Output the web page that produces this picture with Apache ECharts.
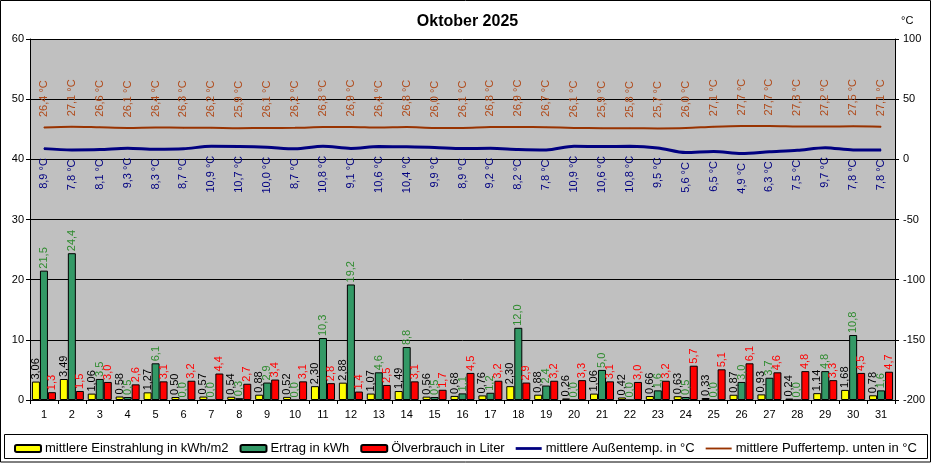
<!DOCTYPE html>
<html><head><meta charset="utf-8">
<script src="https://cdn.jsdelivr.net/npm/echarts@6/dist/echarts.min.js"></script>
<style>html,body{margin:0;padding:0;background:#fff}#c{width:935px;height:463px}</style>
</head><body><div id="c"></div>
<script>
const days = ['1','2','3','4','5','6','7','8','9','10','11','12','13','14','15','16','17','18','19','20','21','22','23','24','25','26','27','28','29','30','31'];
const einstrahlung = [3.06,3.49,1.06,0.58,1.27,0.50,0.57,0.54,0.88,0.52,2.30,2.88,1.07,1.49,0.56,0.68,0.76,2.30,0.88,0.26,1.06,0.42,0.66,0.63,0.33,0.87,0.93,0.24,1.14,1.68,0.78];
const ertrag = [21.5,24.4,3.5,0.5,6.1,0.0,0.0,0.3,2.9,0.0,10.3,19.2,4.6,8.8,0.5,1.1,1.2,12.0,2.4,0.0,5.0,0.0,1.6,0.5,0.0,3.0,3.7,0.0,4.8,10.8,1.6];
const oel = [1.3,1.5,3.0,2.6,3.1,3.2,4.4,2.7,3.4,3.1,2.8,1.4,2.5,3.1,1.7,4.5,3.2,2.9,3.2,3.3,3.1,3.0,3.2,5.7,5.1,6.1,4.6,4.8,3.3,4.5,4.7];
const aussen = [8.9,7.8,8.1,9.3,8.3,8.7,10.9,10.7,10.0,8.7,10.8,9.1,10.6,10.4,9.9,8.9,9.2,8.2,7.8,10.9,10.6,10.8,9.5,5.6,6.5,4.9,6.3,7.5,9.7,7.8,7.8];
const puffer = [26.4,27.1,26.6,26.1,26.4,26.3,26.2,25.9,26.1,26.2,26.8,26.9,26.4,26.8,26.0,26.1,26.8,26.9,26.7,26.1,25.9,25.8,25.7,26.0,27.1,27.7,27.7,27.3,27.2,27.5,27.1];
const leftTicks = {min:0, max:60, interval:10};
const rightTicks = {min:-200, max:100, interval:50};

const FONT = 'Liberation Sans, Arial, sans-serif';
const fmt = d => p => p.value.toFixed(d).replace('.', ',');
const tfmt = p => p.value.toFixed(1).replace('.', ',') + ' °C';
const barLabel = (color, d) => ({show:true, position:'top', rotate:90, align:'left', verticalAlign:'middle', distance:2, color:color, fontFamily:FONT, fontSize:11, formatter:fmt(d)});

const chart = echarts.init(document.getElementById('c'), null, {renderer:'canvas'});
chart.setOption({
  animation:false,
  backgroundColor:'#fff',
  textStyle:{fontFamily:FONT},
  title:{text:'Oktober 2025', left:'center', top:9, textStyle:{fontFamily:FONT, fontSize:16, fontWeight:'bold', color:'#000'}},
  graphic:[
    {type:'rect', shape:{x:0.5,y:0.5,width:930,height:461.5}, style:{fill:'none', stroke:'#000', lineWidth:1}, silent:true, z:-1},
    {type:'rect', shape:{x:4.5,y:434.5,width:923,height:24}, style:{fill:'none', stroke:'#000', lineWidth:1}, silent:true}
  ],
  legend:{
    left:9, top:437, width:920, itemWidth:26, itemHeight:7, itemGap:11,
    textStyle:{fontFamily:FONT, fontSize:13, color:'#000', padding:[0,0,0,-1]},
    data:[
      {name:'mittlere Einstrahlung in kWh/m2'},
      {name:'Ertrag in kWh'},
      {name:'Ölverbrauch in Liter'},
      {name:'mittlere Außentemp. in °C', icon:'path://M0,0 L28,0 L28,3 L0,3 Z'},
      {name:'mittlere Puffertemp. unten in °C', icon:'path://M0,0 L28,0 L28,2 L0,2 Z'}
    ]
  },
  grid:{left:30, right:40, top:39, bottom:63, show:true, backgroundColor:'#c0c0c0', borderWidth:0},
  xAxis:{type:'category', data:days, boundaryGap:true,
    axisLine:{lineStyle:{color:'#000'}}, axisTick:{show:true, alignWithLabel:false, length:4, lineStyle:{color:'#000'}},
    axisLabel:{color:'#000', fontSize:11, margin:9, interval:0}},
  yAxis:[
    {type:'value', min:leftTicks.min, max:leftTicks.max, interval:leftTicks.interval, position:'left',
     axisLine:{show:true, lineStyle:{color:'#000'}}, axisTick:{show:true, length:4, lineStyle:{color:'#000'}},
     axisLabel:{color:'#000', fontSize:11, margin:6},
     splitLine:{show:true, lineStyle:{color:'#000', width:1}}},
    {type:'value', min:rightTicks.min, max:rightTicks.max, interval:rightTicks.interval, position:'right',
     name:'°C', nameLocation:'end', nameGap:13, nameTextStyle:{color:'#000', fontSize:11, align:'left', padding:[0,0,0,6]},
     axisLine:{show:true, lineStyle:{color:'#000'}}, axisTick:{show:true, length:4, lineStyle:{color:'#000'}},
     axisLabel:{color:'#000', fontSize:11, margin:8},
     splitLine:{show:false}}
  ],
  series:[
    {name:'mittlere Einstrahlung in kWh/m2', type:'bar', data:einstrahlung, barWidth:8, barGap:'0%',
     itemStyle:{color:'#ffff00', borderColor:'#000', borderWidth:1}, label:barLabel('#000',2)},
    {name:'Ertrag in kWh', type:'bar', data:ertrag, barWidth:8, barGap:'0%',
     itemStyle:{color:'#339966', borderColor:'#000', borderWidth:1}, label:barLabel('#2e8b2e',1)},
    {name:'Ölverbrauch in Liter', type:'bar', data:oel, barWidth:8, barGap:'0%',
     itemStyle:{color:'#ff0000', borderColor:'#000', borderWidth:1}, label:barLabel('#ff0000',1)},
    {name:'mittlere Außentemp. in °C', type:'line', yAxisIndex:1, data:aussen, smooth:0.3,
     symbol:'circle', symbolSize:1, itemStyle:{color:'#000080'}, lineStyle:{color:'#000080', width:3},
     label:{show:true, position:'bottom', rotate:90, align:'right', verticalAlign:'middle', distance:9, color:'#000080', fontSize:11, fontFamily:FONT, formatter:tfmt}},
    {name:'mittlere Puffertemp. unten in °C', type:'line', yAxisIndex:1, data:puffer, smooth:0.3,
     symbol:'circle', symbolSize:1, itemStyle:{color:'#993300'}, lineStyle:{color:'#993300', width:2},
     label:{show:true, position:'top', rotate:90, align:'left', verticalAlign:'middle', distance:10, color:'#b04a1a', fontSize:11, fontFamily:FONT, formatter:tfmt}}
  ]
});
</script></body></html>
